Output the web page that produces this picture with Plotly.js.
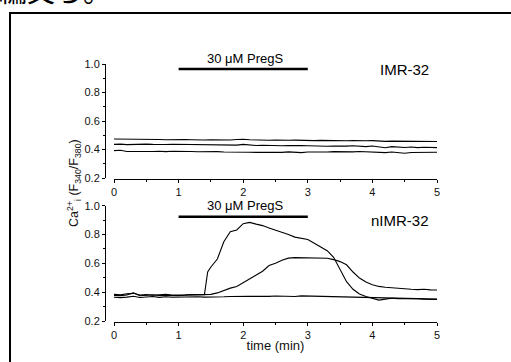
<!DOCTYPE html>
<html>
<head>
<meta charset="utf-8">
<script src="https://cdn.plot.ly/plotly-3.0.1.min.js"></script>
<style>html,body{margin:0;padding:0;background:#fff;}#chart{width:511px;height:362px;}</style>
</head>
<body>
<div id="chart"></div>
<script>
// time axis (min)
const timeTop = [0,0.1,0.2,0.3,0.4,0.5,0.6,0.7,0.8,0.9,1.0,1.1,1.2,1.3,1.4,1.5,1.6,1.7,1.8,1.9,2.0,2.1,2.2,2.3,2.4,2.5,2.6,2.7,2.8,2.9,3.0,3.1,3.2,3.3,3.4,3.5,3.6,3.7,3.8,3.9,4.0,4.1,4.2,4.3,4.4,4.5,4.6,4.7,4.8,4.9,5.0];
const timeBottom = [0,0.1,0.2,0.3,0.4,0.5,0.6,0.7,0.8,0.9,1.0,1.1,1.2,1.3,1.4,1.45,1.5,1.6,1.7,1.8,1.9,2.0,2.1,2.2,2.3,2.4,2.5,2.6,2.7,2.8,2.9,3.0,3.1,3.2,3.3,3.4,3.5,3.6,3.7,3.8,3.9,4.0,4.1,4.2,4.3,4.4,4.5,4.6,4.7,4.8,4.9,5.0];

// IMR-32 traces (F340/F380)
const imrA = [0.474,0.474,0.472,0.470,0.473,0.471,0.469,0.470,0.468,0.470,0.471,0.469,0.468,0.470,0.467,0.468,0.466,0.468,0.467,0.470,0.472,0.468,0.466,0.467,0.465,0.466,0.464,0.465,0.466,0.463,0.465,0.462,0.464,0.462,0.461,0.463,0.461,0.462,0.460,0.461,0.462,0.459,0.457,0.459,0.458,0.457,0.456,0.458,0.457,0.455,0.456];
const imrB = [0.436,0.438,0.434,0.437,0.435,0.438,0.436,0.433,0.435,0.437,0.436,0.440,0.436,0.434,0.435,0.433,0.434,0.432,0.433,0.431,0.436,0.430,0.428,0.430,0.427,0.429,0.426,0.428,0.425,0.427,0.426,0.424,0.425,0.423,0.425,0.422,0.424,0.426,0.423,0.420,0.425,0.421,0.412,0.420,0.417,0.414,0.418,0.413,0.416,0.414,0.413];
const imrC = [0.392,0.395,0.386,0.385,0.387,0.384,0.386,0.388,0.385,0.388,0.389,0.390,0.386,0.384,0.386,0.383,0.385,0.382,0.383,0.381,0.383,0.381,0.380,0.379,0.381,0.378,0.380,0.383,0.380,0.378,0.382,0.381,0.384,0.382,0.385,0.383,0.385,0.383,0.386,0.384,0.387,0.383,0.378,0.382,0.380,0.374,0.379,0.380,0.378,0.381,0.381];

// nIMR-32 traces (F340/F380)
const nimrFast = [0.385,0.382,0.388,0.392,0.380,0.383,0.379,0.383,0.385,0.380,0.378,0.381,0.384,0.386,0.383,0.540,0.575,0.630,0.750,0.820,0.832,0.875,0.884,0.872,0.862,0.846,0.832,0.818,0.800,0.782,0.772,0.765,0.740,0.712,0.688,0.642,0.560,0.473,0.420,0.388,0.370,0.356,0.345,0.352,0.358,0.355,0.356,0.354,0.355,0.352,0.351,0.350];
const nimrSlow = [0.378,0.376,0.380,0.396,0.375,0.378,0.382,0.377,0.375,0.378,0.376,0.379,0.381,0.378,0.380,0.382,0.385,0.395,0.412,0.428,0.440,0.465,0.495,0.515,0.545,0.585,0.600,0.622,0.636,0.640,0.640,0.640,0.639,0.638,0.635,0.626,0.612,0.590,0.540,0.498,0.470,0.452,0.440,0.434,0.430,0.425,0.420,0.420,0.418,0.420,0.416,0.415];
const nimrFlat = [0.365,0.362,0.366,0.372,0.363,0.366,0.370,0.364,0.368,0.365,0.367,0.364,0.366,0.368,0.366,0.367,0.369,0.367,0.368,0.370,0.369,0.370,0.371,0.372,0.370,0.371,0.373,0.371,0.372,0.370,0.374,0.373,0.369,0.372,0.371,0.370,0.369,0.368,0.365,0.366,0.364,0.362,0.358,0.360,0.358,0.357,0.358,0.356,0.355,0.354,0.353,0.352];

// application bar (PregS)
const pregsTime = [1, 3];
const pregsTop = [0.965, 0.965];
const pregsBottom = [0.924, 0.924];

const xTicks = [0,1,2,3,4,5];
const yTicks = [0.2,0.4,0.6,0.8,1.0];

const FONT = 'Liberation Sans, Arial, sans-serif';
const line = {color:'#000', width:1.1};
const traces = [
  {x: timeTop, y: imrA, xaxis:'x', yaxis:'y', mode:'lines', line: line},
  {x: timeTop, y: imrB, xaxis:'x', yaxis:'y', mode:'lines', line: line},
  {x: timeTop, y: imrC, xaxis:'x', yaxis:'y', mode:'lines', line: line},
  {x: pregsTime, y: pregsTop, xaxis:'x', yaxis:'y', mode:'lines', line: {color:'#000', width:2.5}},
  {x: timeBottom, y: nimrFast, xaxis:'x2', yaxis:'y2', mode:'lines', line: line},
  {x: timeBottom, y: nimrSlow, xaxis:'x2', yaxis:'y2', mode:'lines', line: line},
  {x: timeBottom, y: nimrFlat, xaxis:'x2', yaxis:'y2', mode:'lines', line: line},
  {x: pregsTime, y: pregsBottom, xaxis:'x2', yaxis:'y2', mode:'lines', line: {color:'#000', width:2.5}}
];

const W = 511, H = 362;
const px = v => v / W;
const py = v => (H - v) / H;

function xax(pos){
  return {domain:[px(114), px(437)], range:[0,5], anchor:'free', position:pos,
    showline:true, linecolor:'#000', linewidth:1, ticks:'outside', ticklen:3, tickwidth:1, tickcolor:'#000',
    tickvals:xTicks, ticktext:xTicks.map(String), showgrid:false, zeroline:false,
    minor:{tickvals:[0.5,1.5,2.5,3.5,4.5], ticks:'outside', ticklen:2, tickcolor:'#000'},
    tickfont:{family:FONT, size:11, color:'#111'}, fixedrange:true};
}
function yax(d0, d1){
  return {domain:[d0, d1], range:[0.2,1.0], anchor:'free', position:px(105),
    showline:true, linecolor:'#000', linewidth:1, ticks:'outside', ticklen:3, tickwidth:1, tickcolor:'#000',
    tickvals:yTicks, ticktext:yTicks.map(v=>v.toFixed(1)), showgrid:false, zeroline:false,
    minor:{tickvals:[0.3,0.5,0.7,0.9], ticks:'outside', ticklen:2, tickcolor:'#000'},
    tickfont:{family:FONT, size:11, color:'#111'}, fixedrange:true};
}

const layout = {
  width:W, height:H, margin:{l:0,r:0,t:0,b:0},
  paper_bgcolor:'#fff', plot_bgcolor:'rgba(0,0,0,0)', showlegend:false,
  xaxis: xax(py(179)),
  yaxis: yax(py(178), py(64)),
  xaxis2: Object.assign(xax(py(322)), {title:{text:'time (min)', font:{family:FONT, size:13, color:'#111'}, standoff:0}}),
  yaxis2: yax(py(321), py(205.7)),
  shapes:[
    {type:'rect', xref:'paper', yref:'paper', x0:px(10), x1:1.2, y0:-0.2, y1:py(13), line:{color:'#000', width:2}, fillcolor:'rgba(0,0,0,0)'}
  ],
  annotations:[
    {text:'30 μM PregS', x:2.03, y:1, xref:'x', yref:'y domain', yanchor:'bottom', yshift:-4, showarrow:false, font:{family:FONT, size:13, color:'#000'}},
    {text:'IMR-32', x:4.49, y:0.958, xref:'x', yref:'y', showarrow:false, font:{family:FONT, size:15, color:'#000'}},
    {text:'30 μM PregS', x:2.03, y:1, xref:'x2', yref:'y2 domain', yanchor:'middle', showarrow:false, font:{family:FONT, size:13, color:'#000'}},
    {text:'nIMR-32', x:4.43, y:0.90, xref:'x2', yref:'y2', showarrow:false, font:{family:FONT, size:15, color:'#000'}},
    {text:'Ca<sup>2+</sup><sub>i</sub> (F<sub>340</sub>/F<sub>380</sub>)', x:px(63), y:py(183), xref:'paper', yref:'paper', textangle:-90, showarrow:false, font:{family:FONT, size:12.5, color:'#111'}},
    {text:'編文ら。', x:px(-3), y:py(12), xref:'paper', yref:'paper', xanchor:'left', yanchor:'bottom', showarrow:false, font:{family:'Noto Sans CJK JP', size:28, color:'#000'}}
  ]
};

Plotly.newPlot('chart', traces, layout, {staticPlot:true, displayModeBar:false});
</script>
</body>
</html>
